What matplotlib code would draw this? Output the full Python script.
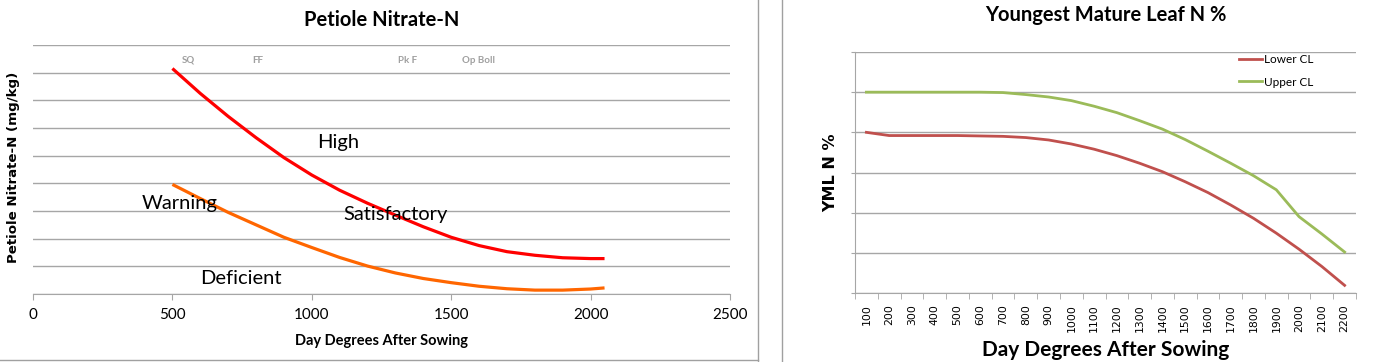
import numpy as np
import matplotlib
matplotlib.use("Agg")
import matplotlib.pyplot as plt
from matplotlib.lines import Line2D

# Petiole Nitrate-N (left chart), mg/kg
dd_petiole = [500, 600, 700, 800, 900, 1000, 1100, 1200, 1300, 1400,
              1500, 1600, 1700, 1800, 1900, 2000, 2050]
upper_petiole = [16300, 14500, 12840, 11300, 9860, 8600, 7500, 6560, 5700, 4860,
                 4100, 3500, 3060, 2800, 2620, 2560, 2560]
lower_petiole = [7920, 6900, 5900, 5000, 4100, 3360, 2640, 2020, 1520, 1120,
                 820, 560, 380, 280, 280, 360, 440]

stages = ["SQ", "FF", "Pk F", "Op Boll"]
stage_dd = [556, 805, 1342, 1598]

zones = ["High", "Warning", "Satisfactory", "Deficient"]
zone_x = [1095, 527, 1300, 744]
zone_y = [10940, 6560, 5780, 1140]

# Youngest mature leaf N % (right chart)
yml_dd = ["100", "200", "300", "400", "500", "600", "700", "800", "900", "1000", "1100",
          "1200", "1300", "1400", "1500", "1600", "1700", "1800", "1900", "2000", "2100", "2200"]
lower_cl = [4.0, 3.92, 3.92, 3.92, 3.92, 3.91, 3.9, 3.87, 3.81, 3.71, 3.58,
            3.42, 3.23, 3.02, 2.77, 2.5, 2.19, 1.86, 1.49, 1.09, 0.66, 0.19]
upper_cl = [5.0, 5.0, 5.0, 5.0, 5.0, 5.0, 4.99, 4.94, 4.88, 4.79, 4.65,
            4.49, 4.29, 4.08, 3.82, 3.53, 3.23, 2.92, 2.57, 1.9, 1.47, 1.02]

cal = "Lato"
grid_c = "#a6a6a6"

fig = plt.figure(figsize=(14, 3.62), dpi=100)

# ---- left chart
ax1 = fig.add_axes([33 / 1400, 1 - 294 / 362, 697 / 1400, 249 / 362])
ax1.plot(dd_petiole, upper_petiole, color="#ff0000", lw=2.3, solid_capstyle="butt")
ax1.plot(dd_petiole, lower_petiole, color="#ff6600", lw=2.3, solid_capstyle="butt")
ax1.set_xlim(0, 2500)
ax1.set_ylim(0, 18000)
ax1.set_xticks(np.arange(0, 2501, 500))
ax1.set_yticks(np.arange(0, 18001, 2000))
ax1.set_yticklabels([])
ax1.tick_params(axis="y", length=0)
ax1.tick_params(axis="x", length=4, color=grid_c, labelsize=11, pad=6)
for lab in ax1.get_xticklabels():
    lab.set_fontfamily(cal)
ax1.grid(axis="y", color=grid_c, lw=1)
ax1.set_axisbelow(True)
for s in ["left", "right", "top"]:
    ax1.spines[s].set_visible(False)
ax1.spines["bottom"].set_color(grid_c)
ax1.set_title("Petiole Nitrate-N", fontfamily=cal, fontweight="bold", fontsize=14.5, pad=14)
ax1.set_xlabel("Day Degrees After Sowing", fontfamily=cal, fontweight="bold", fontsize=10.5, labelpad=9)
ax1.set_ylabel("Petiole Nitrate-N (mg/kg)", fontfamily="DejaVu Sans", fontweight="bold", fontsize=9.6)
ax1.yaxis.set_label_coords(-0.019, 0.51)
for name, x in zip(stages, stage_dd):
    ax1.text(x, 16900, name, fontfamily=cal, fontweight="bold", fontsize=7, color="#a0a0a0",
             ha="center", va="center")
for name, x, y in zip(zones, zone_x, zone_y):
    ax1.text(x, y, name, fontfamily=cal, fontsize=14.5, color="black", ha="center", va="center")

# ---- right chart
ax2 = fig.add_axes([855 / 1400, 1 - 293 / 362, 501 / 1400, 241 / 362])
pos = np.arange(len(yml_dd))
ax2.plot(pos, lower_cl, color="#c0504d", lw=2, label="Lower CL")
ax2.plot(pos, upper_cl, color="#9bbb59", lw=2, label="Upper CL")
ax2.set_xlim(-0.5, len(yml_dd) - 0.5)
ax2.set_ylim(0, 6)
ax2.set_yticks(np.arange(0, 7, 1))
ax2.set_yticklabels([])
ax2.tick_params(axis="y", length=3, color=grid_c)
ax2.set_xticks(pos)
ax2.set_xticklabels(yml_dd, rotation=90, fontfamily="DejaVu Sans", fontsize=7.8)
ax2.set_xticks(np.arange(-0.5, len(yml_dd)), minor=True)
ax2.tick_params(axis="x", which="major", length=0, pad=8)
ax2.tick_params(axis="x", which="minor", length=4, color=grid_c)
ax2.grid(axis="y", color=grid_c, lw=1)
ax2.set_axisbelow(True)
for s in ["right", "top"]:
    ax2.spines[s].set_visible(False)
ax2.spines["left"].set_color(grid_c)
ax2.spines["bottom"].set_color(grid_c)
ax2.set_title("Youngest Mature Leaf N %", fontfamily=cal, fontweight="bold", fontsize=14.5, pad=22)
ax2.set_xlabel("Day Degrees After Sowing", fontfamily=cal, fontweight="bold", fontsize=15, labelpad=6)
ax2.set_ylabel("YML N %", fontfamily="DejaVu Sans", fontweight="bold", fontsize=11.5)
ax2.yaxis.set_label_coords(-0.034, 0.5)
leg = ax2.legend(loc="upper left", bbox_to_anchor=(0.766, 0.99), frameon=False,
                 prop={"family": cal, "size": 8.5}, handlelength=2.0, handletextpad=0.15,
                 labelspacing=0.95, borderpad=0, borderaxespad=0)

# panel borders
fig.add_artist(Line2D([758 / 1400, 758 / 1400], [0, 1], color="#a0a0a0", lw=1))
fig.add_artist(Line2D([0, 758 / 1400], [2 / 362, 2 / 362], color="#a0a0a0", lw=1))
fig.add_artist(Line2D([782 / 1400, 782 / 1400], [0, 1], color="#a0a0a0", lw=1))

fig.savefig("out.png", dpi=100)
